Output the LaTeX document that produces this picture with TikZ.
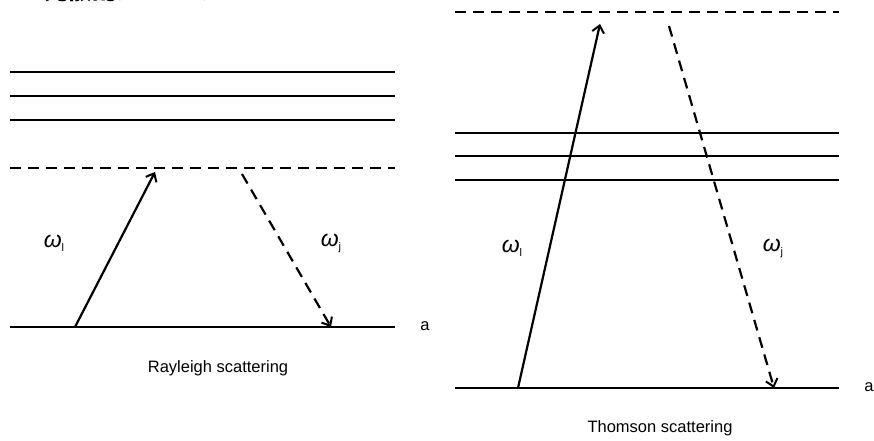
\documentclass[tikz,border=0pt]{standalone}
\usepackage{fontspec}
\setmainfont{Liberation Sans}
\newfontfamily\jpfont{Noto Sans CJK JP}
\usetikzlibrary{arrows.meta}
\begin{document}
\begin{tikzpicture}[x=1pt,y=-1pt,
  level/.style={line width=2.2pt},
  virt/.style={line width=2.2pt,dash pattern=on 11pt off 7pt},
  absorb/.style={line width=2.2pt,-{Straight Barb[length=7pt,width=12pt,line width=2pt]}},
  emit/.style={line width=2.2pt,dash pattern=on 11pt off 7pt,-{Straight Barb[length=7pt,width=12pt,line width=2pt]}},
  lbl/.style={font=\fontsize{16.5}{20}\selectfont,inner sep=0pt},
  om/.style={font=\fontsize{23}{27}\selectfont,inner sep=0pt},
  sub/.style={}]
\newcommand\omsub[1]{\textit{ω}\raisebox{-4pt}{\fontsize{11}{12}\selectfont #1}}
\useasboundingbox (0,0) rectangle (874,441);
% cut-off heading
\begin{scope}
\clip (0,0) rectangle (874,441);
\node[anchor=south west,inner sep=0pt,font=\jpfont\bfseries\fontsize{24}{28}\selectfont] (head) at (44,2) {光散乱について};
\end{scope}
% Rayleigh
\coordinate (r1a) at (10,72);  \coordinate (r1b) at (395,72);
\coordinate (r2a) at (10,96);  \coordinate (r2b) at (395,96);
\coordinate (r3a) at (10,120); \coordinate (r3b) at (395,120);
\coordinate (rva) at (10,168); \coordinate (rvb) at (395,168);
\coordinate (rga) at (10,327); \coordinate (rgb) at (395,327);
\draw[level] (r1a) -- (r1b);
\draw[level] (r2a) -- (r2b);
\draw[level] (r3a) -- (r3b);
\draw[virt] (rva) -- (rvb);
\draw[level] (rga) -- (rgb);
\coordinate (rs) at (75,327); \coordinate (re) at (155,172);
\coordinate (rds) at (242,174); \coordinate (rde) at (331,327);
\draw[absorb] (rs) -- (re);
\draw[emit] (rds) -- (rde);
\node[om] (rol) at (54,243) {\omsub{l}};
\node[om] (roj) at (331,243) {\omsub{j}};
\node[lbl] (ra) at (425,326) {a};
\node[lbl] (rt) at (218,368) {Rayleigh scattering};
% Thomson
\coordinate (tva) at (455,12);  \coordinate (tvb) at (839,12);
\coordinate (t1a) at (455,133); \coordinate (t1b) at (839,133);
\coordinate (t2a) at (455,156); \coordinate (t2b) at (839,156);
\coordinate (t3a) at (455,180); \coordinate (t3b) at (839,180);
\coordinate (tga) at (455,388); \coordinate (tgb) at (839,388);
\draw[virt] (tva) -- (tvb);
\draw[level] (t1a) -- (t1b);
\draw[level] (t2a) -- (t2b);
\draw[level] (t3a) -- (t3b);
\draw[level] (tga) -- (tgb);
\coordinate (ts) at (518,388); \coordinate (te) at (600,24);
\coordinate (tds) at (669,26); \coordinate (tde) at (774,388);
\draw[absorb] (ts) -- (te);
\draw[emit] (tds) -- (tde);
\node[om] (tol) at (512,248) {\omsub{l}};
\node[om] (toj) at (773,248) {\omsub{j}};
\node[lbl] (ta) at (869,387) {a};
\node[lbl] (tt) at (660,428) {Thomson scattering};
\end{tikzpicture}
\end{document}
